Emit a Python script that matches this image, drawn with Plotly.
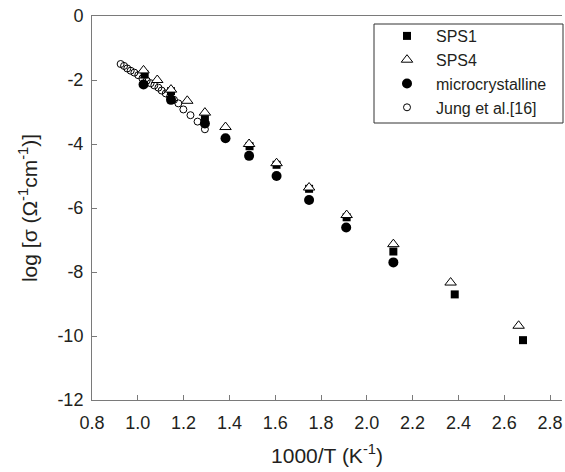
import plotly.graph_objects as go

# Data
sps1_x = [1.03, 1.145, 1.293, 1.488, 1.606, 1.748, 1.912, 2.116, 2.384, 2.682]
sps1_y = [-1.83, -2.35, -3.15, -4.07, -4.65, -5.40, -6.29, -7.36, -8.70, -10.13]

sps4_x = [1.025, 1.085, 1.145, 1.216, 1.293, 1.383, 1.486, 1.606, 1.748, 1.912, 2.116, 2.366, 2.663]
sps4_y = [-1.70, -2.00, -2.30, -2.65, -3.02, -3.47, -4.00, -4.60, -5.36, -6.22, -7.13, -8.33, -9.68]

micro_x = [1.025, 1.145, 1.293, 1.383, 1.486, 1.606, 1.748, 1.91, 2.116]
micro_y = [-2.14, -2.62, -3.36, -3.82, -4.37, -5.00, -5.75, -6.61, -7.70]

jung_x = [0.925, 0.940, 0.954, 0.969, 0.985, 1.002, 1.020, 1.039, 1.056, 1.072,
          1.090, 1.104, 1.122, 1.141, 1.158, 1.177, 1.199, 1.230, 1.261, 1.293]
jung_y = [-1.50, -1.56, -1.64, -1.71, -1.77, -1.85, -1.95, -2.02, -2.10, -2.17,
          -2.24, -2.33, -2.42, -2.52, -2.62, -2.73, -2.92, -3.10, -3.30, -3.54]

x_ticks = [0.8, 1.0, 1.2, 1.4, 1.6, 1.8, 2.0, 2.2, 2.4, 2.6, 2.8]
y_ticks = [0, -2, -4, -6, -8, -10, -12]

FONT = "Liberation Sans, Arial, sans-serif"
TXT = "#231f20"
AX = "#7a7a7a"

fig = go.Figure()
fig.add_trace(go.Scatter(x=jung_x, y=jung_y, mode="markers", name="Jung et al.[16]",
                         legendrank=4,
                         marker=dict(symbol="circle-open", size=7, color="black",
                                     line=dict(width=1, color="black"))))
fig.add_trace(go.Scatter(x=micro_x, y=micro_y, mode="markers", name="microcrystalline",
                         legendrank=3,
                         marker=dict(symbol="circle", size=10, color="black")))
fig.add_trace(go.Scatter(x=sps1_x, y=sps1_y, mode="markers", name="SPS1",
                         legendrank=1,
                         marker=dict(symbol="square", size=8, color="black")))
fig.add_trace(go.Scatter(x=sps4_x, y=sps4_y, mode="markers", name="SPS4",
                         legendrank=2,
                         marker=dict(symbol="triangle-up", size=10, color="white",
                                     line=dict(width=1, color="black"))))

W, H = 565, 472
L, R, T, B = 92, 3, 16, 72
pw = W - L - R
ph = H - T - B

fig.update_layout(
    width=W, height=H,
    margin=dict(l=L, r=R, t=T, b=B, autoexpand=False),
    paper_bgcolor="white", plot_bgcolor="white",
    font=dict(family=FONT, size=18, color=TXT),
    showlegend=True,
    legend=dict(x=(378 - L) / pw, y=1 - (19 - T) / ph, xanchor="left", yanchor="top",
                bgcolor="rgba(0,0,0,0)", borderwidth=0,
                font=dict(family=FONT, size=16, color=TXT),
                itemwidth=48, tracegroupgap=0),
    shapes=[dict(type="rect", xref="paper", yref="paper",
                 x0=(374 - L) / pw, x1=(563 - L) / pw,
                 y0=1 - (123 - T) / ph, y1=1 - (24 - T) / ph,
                 line=dict(color="#333333", width=1), fillcolor="rgba(0,0,0,0)")],
)

fig.update_xaxes(
    range=[0.8, 0.8 + pw / 229.0], tickvals=x_ticks, ticktext=[f"{v:.1f}" for v in x_ticks],
    ticks="inside", ticklen=5, tickcolor=AX, tickwidth=1, ticklabelstandoff=6,
    ticklabeloverflow="allow",
    showline=True, linecolor=AX, linewidth=1, mirror=True,
    showgrid=False, zeroline=False,
    tickfont=dict(family=FONT, size=18, color=TXT),
    title=dict(text="1000/T (K<sup>-1</sup>)", font=dict(family=FONT, size=21, color=TXT), standoff=16),
)
fig.update_yaxes(
    range=[-12, 0], tickvals=y_ticks, ticktext=[str(v) for v in y_ticks],
    ticks="inside", ticklen=5, tickcolor=AX, tickwidth=1, ticklabelstandoff=4,
    ticklabeloverflow="allow",
    showline=True, linecolor=AX, linewidth=1, mirror=False,
    showgrid=False, zeroline=False,
    tickfont=dict(family=FONT, size=18, color=TXT),
    title=dict(text="log [σ (Ω<sup>-1</sup>cm<sup>-1</sup>)]", font=dict(family=FONT, size=21, color=TXT), standoff=14),
)

# remove the browser's default 8px page margin so the figure fills the window
fig.write_html("out.html",
               config={"displayModeBar": False},
               post_script="document.body.style.margin='0';document.body.style.overflow='hidden';")
